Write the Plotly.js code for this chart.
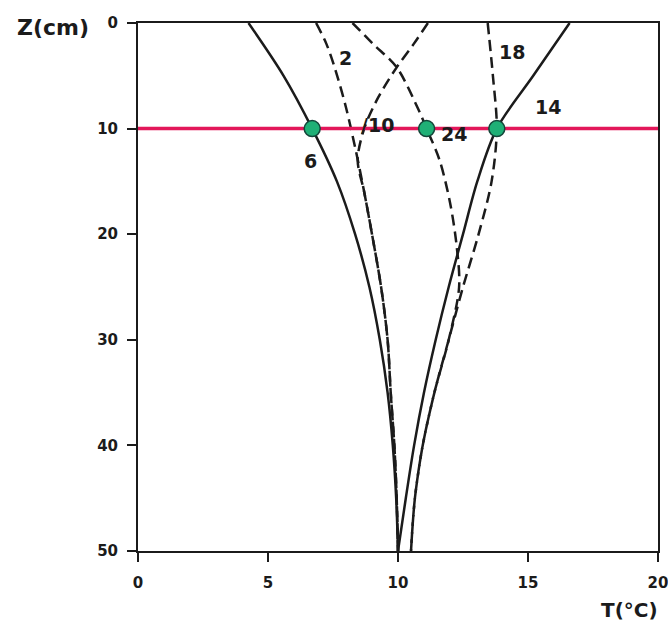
<!DOCTYPE html>
<html>
<head>
<meta charset="utf-8">
<script src="https://cdn.plot.ly/plotly-3.0.1.min.js"></script>
<style>
  html, body { margin: 0; padding: 0; background: #fff; }
  #chart { width: 668px; height: 629px; }
</style>
</head>
<body>
<div id="chart"></div>
<script>
// Soil temperature profiles T(z) at several hours of the day.
// Solid curves: 6 h and 14 h; dashed curves: 2 h, 10 h, 18 h and 24 h.

const depth06 = [0, 5, 10, 15, 20, 25, 30, 35, 40, 45, 50];
const temp06  = [4.25, 5.6, 6.7, 7.65, 8.35, 8.9, 9.3, 9.6, 9.8, 9.93, 10.0];

const depth14 = [0, 5, 10, 15, 20, 25, 30, 35, 40, 45, 50];
const temp14  = [16.6, 15.2, 13.8, 13.05, 12.5, 11.95, 11.45, 11.0, 10.62, 10.3, 10.0];

const depth02 = [0, 2, 4.5, 8, 12, 16, 20, 25, 30, 35, 40, 45, 50];
const temp02  = [6.85, 7.25, 7.6, 8.0, 8.37, 8.7, 9.0, 9.35, 9.6, 9.72, 9.86, 9.95, 10.0];

const depth10 = [0, 2, 4.2, 7, 10, 13, 16, 20, 25, 30, 35, 40, 45, 50];
const temp10  = [11.15, 10.6, 9.95, 9.25, 8.7, 8.45, 8.7, 9.0, 9.35, 9.6, 9.72, 9.86, 9.95, 10.0];

const depth18 = [0, 5, 10, 15, 20, 25, 30, 35, 40, 45, 50];
const temp18  = [13.45, 13.65, 13.8, 13.6, 13.1, 12.5, 11.95, 11.4, 10.95, 10.65, 10.5];

const depth24 = [0, 2, 4.2, 8, 10, 13, 17, 21, 25, 30, 35, 40, 45, 50];
const temp24  = [8.25, 9.05, 9.95, 10.75, 11.1, 11.6, 12.0, 12.25, 12.35, 11.95, 11.4, 10.95, 10.65, 10.5];

// Reference depth and the temperatures marked on it
const refDepth = 10;
const refSpan = [0, 20];
const markedTemps = [6.7, 11.1, 13.8];

const xTicks = [0, 5, 10, 15, 20];
const yTicks = [0, 10, 20, 30, 40, 50];

const ink = '#1b1b1b';
const solid = { color: ink, width: 2.5, shape: 'spline', smoothing: 0.9 };
const dashed = { color: ink, width: 2.5, dash: '11px,6px', shape: 'spline', smoothing: 0.9 };

function profile(t, z, line) {
  return { x: t, y: z, type: 'scatter', mode: 'lines', line: line, hoverinfo: 'skip', showlegend: false };
}

const traces = [
  profile(temp06, depth06, solid),
  profile(temp14, depth14, solid),
  profile(temp02, depth02, dashed),
  profile(temp10, depth10, dashed),
  profile(temp18, depth18, dashed),
  profile(temp24, depth24, dashed),
  {
    x: refSpan, y: refSpan.map(() => refDepth), type: 'scatter', mode: 'lines',
    line: { color: '#e3175a', width: 3.5 }, hoverinfo: 'skip', showlegend: false, cliponaxis: false
  },
  {
    x: markedTemps, y: markedTemps.map(() => refDepth), type: 'scatter', mode: 'markers',
    marker: { size: 16, color: '#1fb076', line: { color: '#14463a', width: 1.5 } },
    hoverinfo: 'skip', showlegend: false
  }
];

const fam = 'DejaVu Sans, Arial, sans-serif';
const labelFont = { family: fam, size: 19, color: ink, weight: 'bold' };
function hourLabel(text, t, z) {
  return { x: t, y: z, xref: 'x', yref: 'y', text: text, showarrow: false,
           font: labelFont, xanchor: 'center', yanchor: 'middle' };
}

const layout = {
  width: 668, height: 629,
  margin: { l: 138, r: 10, t: 23, b: 78 },
  paper_bgcolor: '#fff', plot_bgcolor: '#fff',
  showlegend: false,
  xaxis: {
    range: [0, 20], tickvals: xTicks, ticktext: xTicks.map(String),
    showgrid: false, zeroline: false,
    showline: true, linecolor: ink, linewidth: 2, mirror: true,
    ticks: 'outside', ticklen: 9, tickwidth: 2, tickcolor: ink,
    ticklabelstandoff: 8, ticklabeloverflow: 'allow',
    tickfont: { family: fam, size: 15, color: ink, weight: 'bold' }
  },
  yaxis: {
    range: [50, 0], tickvals: yTicks, ticktext: yTicks.map(String),
    showgrid: false, zeroline: false,
    showline: true, linecolor: ink, linewidth: 2, mirror: true,
    ticks: 'outside', ticklen: 9, tickwidth: 2, tickcolor: ink,
    ticklabelstandoff: 6,
    tickfont: { family: fam, size: 15, color: ink, weight: 'bold' }
  },
  annotations: [
    hourLabel('2', 7.99, 3.3),
    hourLabel('18', 14.4, 2.75),
    hourLabel('14', 15.75, 7.95),
    hourLabel('/10', 9.2, 9.7),
    hourLabel('24', 12.16, 10.5),
    hourLabel('6', 6.62, 13.1),
    { x: -0.164, y: 0.992, xref: 'paper', yref: 'paper', text: 'Z(cm)', showarrow: false,
      xanchor: 'center', yanchor: 'middle',
      font: { family: fam, size: 22, color: ink, weight: 'bold' } },
    { x: 0.945, y: -0.112, xref: 'paper', yref: 'paper', text: 'T(°C)', showarrow: false,
      xanchor: 'center', yanchor: 'middle',
      font: { family: fam, size: 20, color: ink, weight: 'bold' } }
  ]
};

Plotly.newPlot('chart', traces, layout, { staticPlot: true, displayModeBar: false });
</script>
</body>
</html>
